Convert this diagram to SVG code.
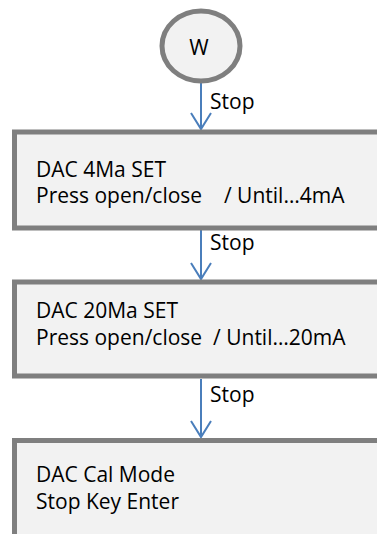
<svg xmlns="http://www.w3.org/2000/svg" width="377" height="534" viewBox="0 0 377 534">
<style>
.box{fill:#f2f2f2;stroke:#7f7f7f;stroke-width:5}
.t{font-family:"Open Sans","Liberation Sans",sans-serif;font-size:21px;fill:#000;white-space:pre}
.c{fill:none;stroke:#4a7ebb;stroke-width:2}
</style>
<rect width="377" height="534" fill="#fff"/>
<g id="connectors">
<line class="c" x1="201" y1="83" x2="201" y2="129"/>
<path class="c" d="M191 113 L201 129 L211 113"/>
<line class="c" x1="201" y1="230" x2="201" y2="279"/>
<path class="c" d="M191 263 L201 279 L211 263"/>
<line class="c" x1="201" y1="379" x2="201" y2="437"/>
<path class="c" d="M191 421 L201 437 L211 421"/>
<text class="t" x="210" y="109">Stop</text>
<text class="t" x="210" y="250">Stop</text>
<text class="t" x="210" y="402">Stop</text>
</g>
<g id="start">
<ellipse class="box" cx="201" cy="46" rx="39" ry="35" stroke-width="4"/>
<text class="t" x="199" y="55" text-anchor="middle">W</text>
</g>
<g id="dac4">
<rect class="box" x="14.5" y="132" width="400" height="96"/>
<text class="t" x="36" y="177">DAC 4Ma SET</text>
<text class="t" x="36" y="203">Press open/close    / Until…4mA</text>
</g>
<g id="dac20">
<rect class="box" x="14.5" y="282" width="400" height="94"/>
<text class="t" x="36" y="318">DAC 20Ma SET</text>
<text class="t" x="36" y="345">Press open/close  / Until…20mA</text>
</g>
<g id="calmode">
<rect class="box" x="14.5" y="440.5" width="400" height="120"/>
<text class="t" x="36" y="482">DAC Cal Mode</text>
<text class="t" x="36" y="509">Stop Key Enter</text>
</g>
</svg>
